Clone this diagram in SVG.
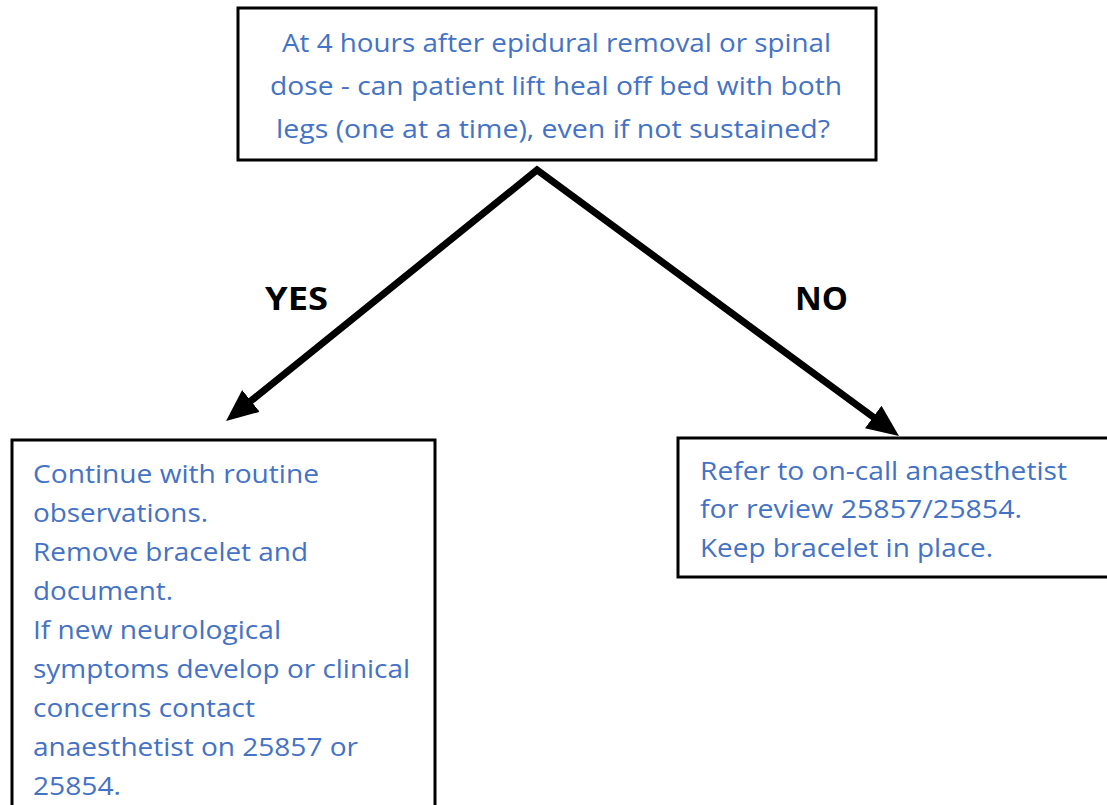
<svg xmlns="http://www.w3.org/2000/svg" width="1107" height="805" viewBox="0 0 1107 805">
<style>
.box{fill:#fff;stroke:#000;stroke-width:3}
.t{font-family:"Open Sans","Noto Sans",sans-serif;font-size:26px;fill:#4472C4}
.lbl{font-family:"Open Sans","Liberation Sans",sans-serif;font-size:32px;font-weight:bold;fill:#000}
.conn{fill:none;stroke:#000;stroke-width:7;stroke-linejoin:miter;stroke-miterlimit:10}
</style>
<defs>
<marker id="ah" markerUnits="userSpaceOnUse" viewBox="0 0 32 28" markerWidth="32" markerHeight="28" refX="16" refY="14" orient="auto-start-reverse">
<path d="M0,0 L32,14 L0,28 z" fill="#000"/>
</marker>
</defs>
<rect width="1107" height="805" fill="#fff"/>
<g id="connectors">
<path class="conn" d="M238.5,411 L537,170 L886.1,426.5" marker-start="url(#ah)" marker-end="url(#ah)"/>
</g>
<g id="question">
<rect class="box" x="238" y="8" width="638" height="152"/>
<text class="t" x="282" y="52" textLength="549" lengthAdjust="spacingAndGlyphs">At 4 hours after epidural removal or spinal</text>
<text class="t" x="270" y="95" textLength="572" lengthAdjust="spacingAndGlyphs">dose - can patient lift heal off bed with both</text>
<text class="t" x="276" y="138" textLength="554" lengthAdjust="spacingAndGlyphs">legs (one at a time), even if not sustained?</text>
</g>
<g id="yes-label"><text class="lbl" x="265" y="310" textLength="63" lengthAdjust="spacingAndGlyphs">YES</text></g>
<g id="no-label"><text class="lbl" x="795" y="310" textLength="53" lengthAdjust="spacingAndGlyphs">NO</text></g>
<g id="yes-box">
<rect class="box" x="12" y="440" width="423" height="380"/>
<text class="t" x="33" y="483" textLength="286" lengthAdjust="spacingAndGlyphs">Continue with routine</text>
<text class="t" x="33" y="522" textLength="175" lengthAdjust="spacingAndGlyphs">observations.</text>
<text class="t" x="33" y="561" textLength="275" lengthAdjust="spacingAndGlyphs">Remove bracelet and</text>
<text class="t" x="33" y="600" textLength="140" lengthAdjust="spacingAndGlyphs">document.</text>
<text class="t" x="33" y="639" textLength="248" lengthAdjust="spacingAndGlyphs">If new neurological</text>
<text class="t" x="33" y="678" textLength="377" lengthAdjust="spacingAndGlyphs">symptoms develop or clinical</text>
<text class="t" x="33" y="717" textLength="222" lengthAdjust="spacingAndGlyphs">concerns contact</text>
<text class="t" x="33" y="756" textLength="325" lengthAdjust="spacingAndGlyphs">anaesthetist on 25857 or</text>
<text class="t" x="33" y="795" textLength="88" lengthAdjust="spacingAndGlyphs">25854.</text>
</g>
<g id="no-box">
<rect class="box" x="678" y="438" width="440" height="139"/>
<text class="t" x="700" y="480" textLength="367" lengthAdjust="spacingAndGlyphs">Refer to on-call anaesthetist</text>
<text class="t" x="700" y="518" textLength="322" lengthAdjust="spacingAndGlyphs">for review 25857/25854.</text>
<text class="t" x="700" y="557" textLength="293" lengthAdjust="spacingAndGlyphs">Keep bracelet in place.</text>
</g>
</svg>
